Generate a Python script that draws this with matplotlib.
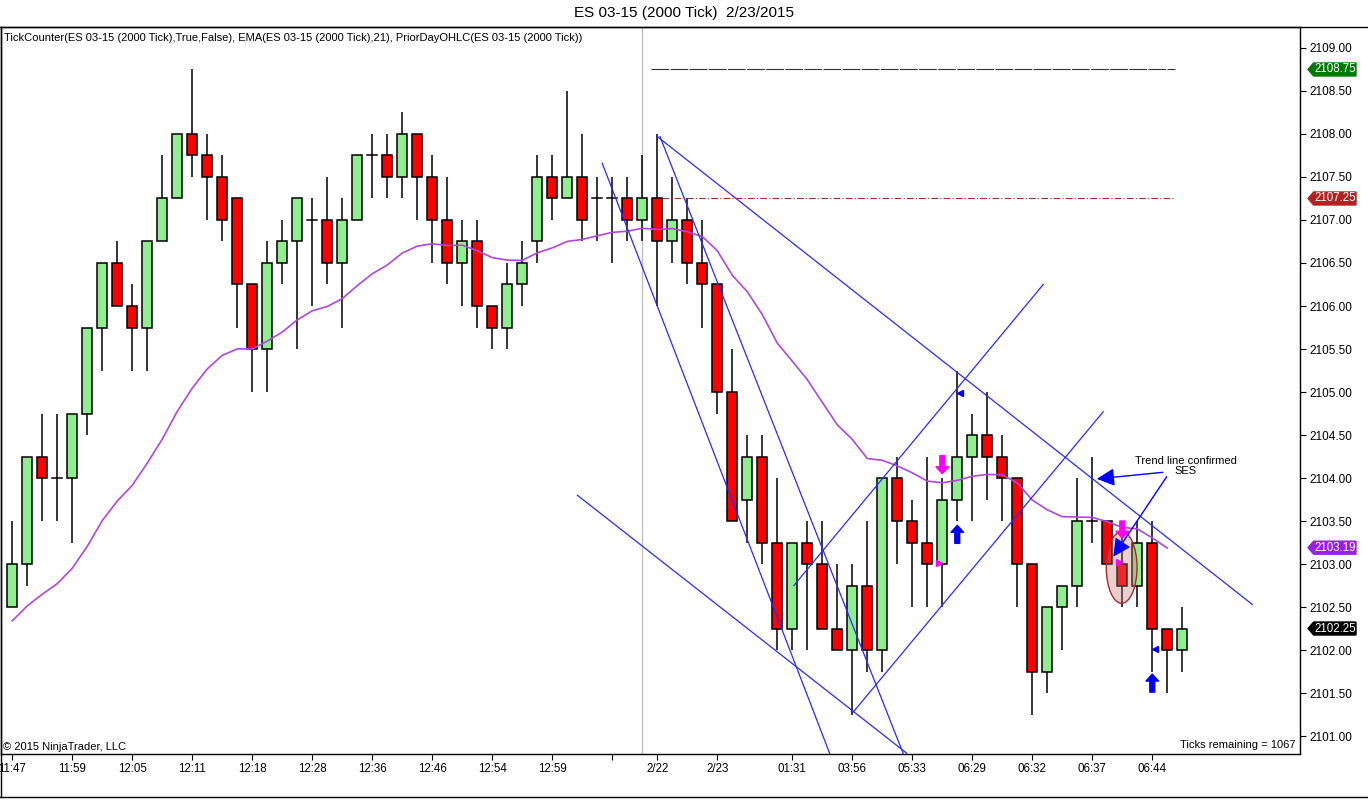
import numpy as np
import matplotlib.pyplot as plt
from matplotlib.patches import Rectangle, Ellipse, Polygon
from matplotlib.lines import Line2D

plt.rcParams['font.family'] = ['Liberation Sans', 'DejaVu Sans']

# OHLC of the 2000-tick bars
opens = [2102.5, 2103.0, 2104.25, 2104.0, 2104.0, 2104.75, 2105.75, 2106.5, 2106.0, 2105.75,
         2106.75, 2107.25, 2108.0, 2107.75, 2107.5, 2107.25, 2106.25, 2105.5, 2106.5, 2106.75,
         2107.0, 2107.0, 2106.5, 2107.0, 2107.75, 2107.75, 2107.5, 2108.0, 2107.5, 2107.0,
         2106.5, 2106.75, 2106.0, 2105.75, 2106.25, 2106.75, 2107.5, 2107.25, 2107.5, 2107.25,
         2107.25, 2107.25, 2107.0, 2107.25, 2106.75, 2107.0, 2106.5, 2106.25, 2105.0, 2103.75,
         2104.25, 2103.25, 2102.25, 2103.25, 2103.0, 2102.25, 2102.0, 2102.75, 2102.0, 2104.0,
         2103.5, 2103.25, 2103.0, 2103.75, 2104.25, 2104.5, 2104.25, 2104.0, 2103.0, 2101.75,
         2102.5, 2102.75, 2103.5, 2103.5, 2103.0, 2102.75, 2103.25, 2102.25, 2102.0]
highs = [2103.5, 2104.25, 2104.75, 2104.75, 2104.75, 2105.75, 2106.5, 2106.75, 2106.25, 2106.75,
         2107.75, 2108.0, 2108.75, 2108.0, 2107.75, 2107.25, 2106.25, 2106.75, 2107.0, 2107.25,
         2107.25, 2107.5, 2107.25, 2107.75, 2108.0, 2108.0, 2108.25, 2108.0, 2107.75, 2107.5,
         2107.0, 2107.0, 2106.0, 2106.5, 2106.75, 2107.75, 2107.75, 2108.5, 2108.0, 2107.5,
         2107.5, 2107.5, 2107.75, 2108.0, 2107.5, 2107.25, 2107.0, 2106.25, 2105.5, 2104.5,
         2104.5, 2104.0, 2103.25, 2103.5, 2103.5, 2103.0, 2103.0, 2103.5, 2104.0, 2104.25,
         2103.75, 2104.25, 2104.0, 2105.25, 2104.75, 2105.0, 2104.5, 2104.0, 2103.0, 2102.5,
         2102.75, 2104.0, 2104.25, 2103.5, 2103.5, 2103.5, 2103.5, 2102.25, 2102.5]
lows = [2102.5, 2102.75, 2103.5, 2103.5, 2103.25, 2104.5, 2105.25, 2106.0, 2105.25, 2105.25,
        2106.75, 2107.25, 2107.5, 2107.0, 2106.75, 2105.75, 2105.0, 2105.0, 2106.25, 2105.5,
        2106.0, 2106.25, 2105.75, 2107.0, 2107.25, 2107.25, 2107.25, 2107.0, 2106.5, 2106.25,
        2106.0, 2105.75, 2105.5, 2105.5, 2106.0, 2106.5, 2107.0, 2107.25, 2106.75, 2106.75,
        2106.5, 2106.75, 2106.75, 2106.0, 2106.5, 2106.25, 2105.75, 2104.75, 2103.5, 2103.25,
        2103.0, 2102.0, 2102.0, 2102.0, 2102.25, 2102.0, 2101.25, 2101.75, 2101.75, 2103.0,
        2102.5, 2102.5, 2102.5, 2103.5, 2103.5, 2103.75, 2103.5, 2102.5, 2101.25, 2101.5,
        2102.0, 2102.5, 2103.25, 2103.0, 2102.5, 2102.5, 2101.75, 2101.5, 2101.75]
closes = [2103.0, 2104.25, 2104.0, 2104.0, 2104.75, 2105.75, 2106.5, 2106.0, 2105.75, 2106.75,
          2107.25, 2108.0, 2107.75, 2107.5, 2107.0, 2106.25, 2105.5, 2106.5, 2106.75, 2107.25,
          2107.0, 2106.5, 2107.0, 2107.75, 2107.75, 2107.5, 2108.0, 2107.5, 2107.0, 2106.5,
          2106.75, 2106.0, 2105.75, 2106.25, 2106.5, 2107.5, 2107.25, 2107.5, 2107.0, 2107.25,
          2107.25, 2107.0, 2107.25, 2106.75, 2107.0, 2106.5, 2106.25, 2105.0, 2103.5, 2104.25,
          2103.25, 2102.25, 2103.25, 2103.0, 2102.25, 2102.0, 2102.75, 2102.0, 2104.0, 2103.5,
          2103.25, 2103.0, 2103.75, 2104.25, 2104.5, 2104.25, 2104.0, 2103.0, 2101.75, 2102.5,
          2102.75, 2103.5, 2103.5, 2103.0, 2102.75, 2103.25, 2102.25, 2102.0, 2102.25]

# EMA(21): first value, rest follows the closes
ema_first = 2102.34
ema_period = 21
ema_last_bar = 77

tick_pos = [0, 4, 8, 12, 16, 20, 24, 28, 32, 36, 40, 43, 47, 52, 56, 60, 64, 68, 72, 76]
tick_labels = ['11:47', '11:59', '12:05', '12:11', '12:18', '12:28', '12:36', '12:46', '12:54',
               '12:59', '', '2/22', '2/23', '01:31', '03:56', '05:33', '06:29', '06:32',
               '06:37', '06:44']

# hand drawn trend lines (bar, price) -> (bar, price)
trend_lines = [
    (39.33, 2107.66, 54.6, 2100.75),
    (43.18, 2107.97, 59.5, 2100.75),
    (43.0, 2107.97, 82.67, 2102.53),
    (37.67, 2103.80, 59.63, 2100.80),
    (52.11, 2102.75, 68.73, 2106.25),
    (56.07, 2101.28, 72.73, 2104.77),
]

prior_high = 2108.75
prior_close = 2107.25
ema_label = 2103.19
session_break = 42

down_sig_bars = [62, 74]
down_sig_top = [2104.26, 2103.5]
down_sig_tip = [2104.05, 2103.3]
up_sig_bars = [63, 76]
up_sig_tail = [2103.24, 2101.51]
up_sig_tip = [2103.45, 2101.72]
mag_tri_x = [61.78, 73.8]
mag_tri_y = [2103.01, 2103.02]
blue_tri_x = [63.2, 76.2]
blue_tri_y = [2104.99, 2102.01]

n = len(closes)
x = np.arange(n)

fig = plt.figure(figsize=(13.68, 8), dpi=100)
ax = fig.add_axes([1 / 1368, 46 / 800, 1299 / 1368, 727 / 800])
ax.set_xlim(-0.753, 85.85)
ax.set_ylim(2100.791, 2109.244)

# candles
bw = 0.66
for i in range(n):
    o, h, l, c = opens[i], highs[i], lows[i], closes[i]
    ax.plot([i, i], [l, h], color='black', lw=1.1, zorder=2, solid_capstyle='butt')
    if o == c:
        ax.plot([i - bw / 2, i + bw / 2], [o, o], color='black', lw=1.1, zorder=3)
    else:
        col = '#90ee90' if c > o else '#ff0000'
        ax.add_patch(Rectangle((i - bw / 2, min(o, c)), bw, abs(c - o), facecolor=col,
                               edgecolor='black', lw=1.1, zorder=3))

# ema
alpha = 2 / (ema_period + 1)
ema = [ema_first]
for c in closes[1:ema_last_bar + 1]:
    ema.append(ema[-1] + alpha * (c - ema[-1]))
ax.plot(np.arange(len(ema)), ema, color='#b046e0', lw=1.2, zorder=4)

# prior day levels and session break
ax.axvline(session_break, color='#c0c0c0', lw=1, zorder=1)
ax.plot([42.6, 77.5], [prior_high, prior_high], color='#333333', lw=0.8, dashes=(16, 1.2), zorder=4)
ax.plot([43.3, 77.5], [prior_close, prior_close], color='#a52a2a', lw=0.8,
        dashes=(6, 2, 1, 2), zorder=4)

for x0, y0, x1, y1 in trend_lines:
    ax.plot([x0, x1], [y0, y1], color='#2a2aff', lw=0.9, zorder=5)

ax.add_patch(Ellipse((73.96, 2102.96), 2.05, 0.834, facecolor=(0.78, 0.45, 0.45, 0.35),
                     edgecolor='#a52a2a', lw=1, zorder=6))

for i, t, b in zip(down_sig_bars, down_sig_top, down_sig_tip):
    ax.annotate('', xy=(i, b), xytext=(i, t),
                arrowprops=dict(arrowstyle='simple,head_length=0.5,head_width=0.9,tail_width=0.35',
                                color='#ff00ff', shrinkA=0, shrinkB=0, mutation_scale=10), zorder=7)
for i, t, b in zip(up_sig_bars, up_sig_tip, up_sig_tail):
    ax.annotate('', xy=(i, t), xytext=(i, b),
                arrowprops=dict(arrowstyle='simple,head_length=0.5,head_width=0.9,tail_width=0.35',
                                color='#0000ff', shrinkA=0, shrinkB=0, mutation_scale=10), zorder=7)
ax.plot(mag_tri_x, mag_tri_y, ls='none', marker='>', color='#ff00ff', ms=5, zorder=7)
ax.plot(blue_tri_x, blue_tri_y, ls='none', marker='<', color='#0000ff', ms=5, zorder=7)

# annotation
ax.text(78.25, 2104.14, 'Trend line confirmed\nSES', fontsize=8, ha='center', va='center',
        linespacing=1.0, zorder=8)
big_head = dict(arrowstyle='-|>,head_length=0.6,head_width=0.3', color='#0000ff', lw=1,
                mutation_scale=18, shrinkA=0, shrinkB=0)
ax.annotate('', xy=(72.3, 2103.99), xytext=(76.69, 2104.066), arrowprops=big_head, zorder=8)
ax.annotate('', xy=(73.4, 2103.085), xytext=(76.96, 2104.015), arrowprops=big_head, zorder=8)

# axes styling
ax.yaxis.tick_right()
ax.set_yticks(np.arange(2101, 2109.01, 0.5))
ax.set_yticklabels(['%.2f' % v for v in np.arange(2101, 2109.01, 0.5)])
ax.set_xticks(tick_pos)
ax.set_xticklabels(tick_labels)
ax.tick_params(axis='y', length=4.5, width=0.8, pad=2.5, labelsize=8.5)
ax.tick_params(axis='x', length=4.5, width=0.8, pad=2, labelsize=8.3)
for s in ax.spines.values():
    s.set_linewidth(1)

# price tags on the scale
tr = ax.get_yaxis_transform()
hh = 6.5 / 86
for val, txt, col in [(prior_high, '2108.75', '#007a00'), (prior_close, '2107.25', '#b22222'),
                      (ema_label, '2103.19', '#9a1ee6'), (closes[-1], '2102.25', '#000000')]:
    ax.add_patch(Polygon([[1.0062, val], [1.0105, val + hh], [1.0431, val + hh],
                          [1.0431, val - hh], [1.0105, val - hh]], closed=True, transform=tr,
                         clip_on=False, facecolor=col, edgecolor=col, zorder=10))
    ax.text(1.0268, val, txt, transform=tr, color='white', fontsize=8.3, ha='center',
            va='center', clip_on=False, zorder=11)

ax.text(0.0023, 0.9917,
        'TickCounter(ES 03-15 (2000 Tick),True,False), EMA(ES 03-15 (2000 Tick),21), '
        'PriorDayOHLC(ES 03-15 (2000 Tick))',
        transform=ax.transAxes, fontsize=8, ha='left', va='top')
ax.text(0.0015, 0.003, '\u00a9 2015 NinjaTrader, LLC', transform=ax.transAxes, fontsize=8,
        ha='left', va='bottom')
ax.text(0.9962, 0.005, 'Ticks remaining = 1067', transform=ax.transAxes, fontsize=8,
        ha='right', va='bottom')

fig.text(0.5, 1 - 13 / 800, 'ES 03-15 (2000 Tick)  2/23/2015', fontsize=11, ha='center',
         va='center')

# window frame
fig.add_artist(Line2D([0, 1], [1 - 27 / 800, 1 - 27 / 800], color='black', lw=1))
fig.add_artist(Line2D([0, 1], [3 / 800, 3 / 800], color='black', lw=1))
fig.add_artist(Line2D([0.5 / 1368, 0.5 / 1368], [3 / 800, 1 - 27 / 800], color='black', lw=1))

fig.savefig('out.png', dpi=100)
